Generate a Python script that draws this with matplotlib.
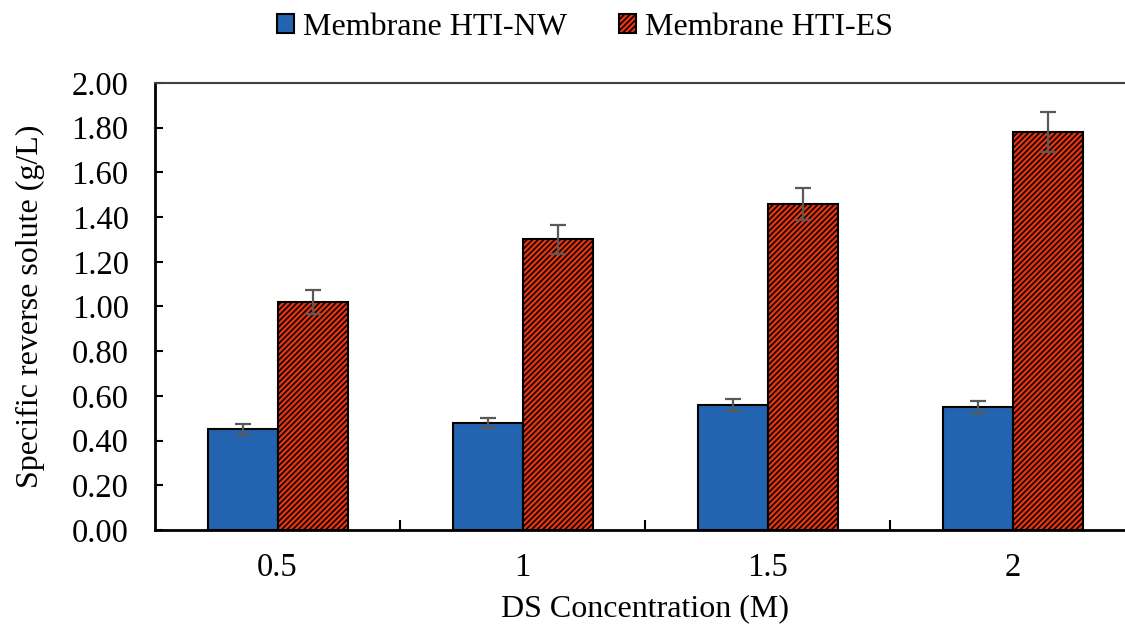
import numpy as np
import matplotlib
matplotlib.use("Agg")
import matplotlib.pyplot as plt
from matplotlib.ticker import FixedLocator, FormatStrFormatter

plt.rcParams["font.family"] = ["Liberation Serif", "DejaVu Serif"]
plt.rcParams["hatch.linewidth"] = 1.1
plt.rcParams["hatch.color"] = "black"

# data
concentrations = ["0.5", "1", "1.5", "2"]
nw_values = [0.45, 0.48, 0.56, 0.55]
nw_errors = [0.023, 0.022, 0.027, 0.027]
es_values = [1.02, 1.30, 1.46, 1.78]
es_errors = [0.052, 0.065, 0.072, 0.09]

fig = plt.figure(figsize=(11.25, 6.28), dpi=100)
ax = fig.add_axes([0.1378, 0.156, 1.009 - 0.1378, 0.868 - 0.156])

x = np.arange(len(concentrations))
w = 0.2857
err_kw = dict(ecolor="#595959", elinewidth=1.6, capsize=5.5, capthick=1.6)

ax.bar(x - w / 2, nw_values, w, yerr=nw_errors, color="#2364B1",
       edgecolor="black", linewidth=1.5, error_kw=err_kw,
       label="Membrane HTI-NW", zorder=2)
ax.bar(x + w / 2, es_values, w, yerr=es_errors, color="#E5330F",
       edgecolor="black", linewidth=1.5, hatch="//////", error_kw=err_kw,
       label="Membrane HTI-ES", zorder=2)

ax.set_xlim(-0.5, len(concentrations) - 0.5)
ax.set_ylim(0, 2.0)
ax.set_yticks(np.arange(0, 2.01, 0.2))
ax.yaxis.set_major_formatter(FormatStrFormatter("%.2f"))
ax.set_xticks(x)
ax.set_xticklabels(concentrations)
ax.xaxis.set_minor_locator(FixedLocator(x[:-1] + 0.5))

ax.tick_params(axis="x", which="major", length=0, labelsize=23.5, pad=16)
ax.tick_params(axis="x", which="minor", direction="in", length=7, width=1.5)
ax.tick_params(axis="y", direction="in", length=6, width=1.5, labelsize=23.5, pad=19)

for side in ["left", "bottom"]:
    ax.spines[side].set_linewidth(2)
ax.spines["top"].set_linewidth(1.5)
ax.spines["top"].set_color("#404040")
ax.spines["right"].set_visible(False)

ax.set_xlabel("DS Concentration (M)", fontsize=23, labelpad=8)
ax.set_ylabel("Specific reverse solute (g/L)", fontsize=23, labelpad=19)

fig.legend(loc="upper center", bbox_to_anchor=(0.52, 1.025), ncol=2,
           frameon=False, fontsize=23, handlelength=0.53, handleheight=0.53,
           handletextpad=0.3, columnspacing=1.6)

fig.savefig("out.png", dpi=100)
